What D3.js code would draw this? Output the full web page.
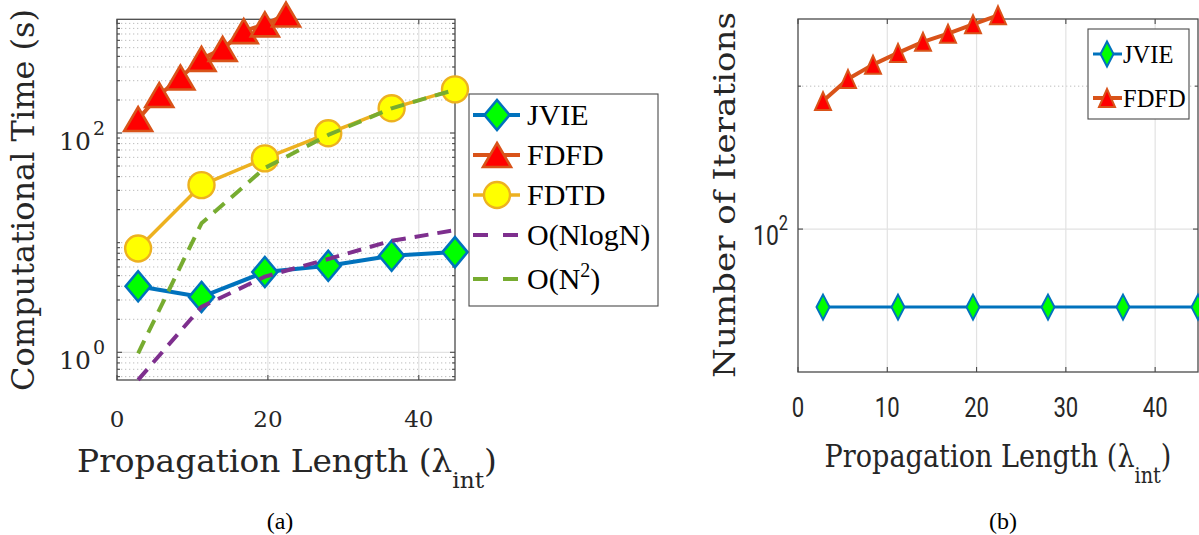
<!DOCTYPE html>
<html><head><meta charset="utf-8">
<script src="https://cdn.jsdelivr.net/npm/d3@7"></script>
<style>body{margin:0;background:#fff}svg{display:block}</style>
</head><body>
<svg id="c" width="1199" height="535"></svg>
<script>
// ---------------- data ----------------
const lengthsCoarse = [2.8, 11.2, 19.6, 28, 36.4, 44.8];
const lengthsFine   = [2.8, 5.6, 8.4, 11.2, 14, 16.8, 19.6, 22.4];
const timeJVIE  = [4.0, 3.2, 5.4, 6.15, 7.6, 8.2];
const timeFDFD  = [134, 222, 321, 474, 585, 849, 979, 1203];
const timeFDTD  = [8.85, 33.5, 58.7, 99.4, 168, 250];
const timeNlogN = [0.56, 2.6, 4.9, 7.1, 10.4, 13.0];
const timeN2    = [0.98, 15, 48, 96, 168, 248];
const iterJVIE  = [68.5, 68.5, 68.5, 68.5, 68.5, 68.5];
const iterFDFD  = [186, 207, 222, 235, 248, 258, 270, 282];
const xTicksA = [0, 20, 40];
const yTicksA = [1, 100];
const xTicksB = [0, 10, 20, 30, 40];
const yTicksB = [100];
const yMinorB = [200];
const legendA = ["JVIE", "FDFD", "FDTD", "O(NlogN)", "O(N2)"];
const legendB = ["JVIE", "FDFD"];
const xTitle = "Propagation Length (λ";
const xTitleSub = "int";
const yTitleA = "Computational Time (s)";
const yTitleB = "Number of Iterations";
const captions = ["(a)", "(b)"];

// ---------------- style ----------------
const svg = d3.select("#c");
const SERIF = "'DejaVu Serif', serif";
const TIMES = "'Liberation Serif', 'Times New Roman', serif";
const SANS = "Roboto, 'Liberation Sans', sans-serif";
const INK = "#262626";
const COL = {blue: "#0072BD", orange: "#D95319", yellow: "#EDB120", purple: "#7E2F8E", green: "#77AC30"};

const shape = {
  diamond: (w, h) => `M0,${-h/2}L${w/2},0L0,${h/2}L${-w/2},0Z`,
  triangle: (w, h) => `M0,${-h/2}L${w/2},${h/2}L${-w/2},${h/2}Z`,
  circle: (w, h) => `M${-w/2},0A${w/2},${h/2} 0 1,0 ${w/2},0A${w/2},${h/2} 0 1,0 ${-w/2},0Z`
};

function marker(g, kind, cx, cy, m) {
  g.append("path").attr("d", shape[kind](m.w, m.h))
    .attr("transform", `translate(${cx},${cy})`)
    .attr("fill", m.fill).attr("stroke", m.stroke).attr("stroke-width", m.sw)
    .attr("stroke-linejoin", "miter");
}

function fitLabel(parent, o, build) {
  const g = parent.append("g").attr("transform", `translate(${o.x},${o.y}) rotate(${o.rot || 0})`);
  const t = g.append("text").attr("text-anchor", o.anchor || "middle")
    .attr("font-family", o.family).attr("font-size", o.size).attr("fill", INK);
  build(t);
  if (o.width) {
    const w = t.node().getBBox().width;
    t.attr("transform", `scale(${o.width / w},1)`);
  }
  return t;
}

function drawFrame(g, box, x, y, o) {
  // minor dotted grid
  g.selectAll(null).data(o.yMinor).join("line")
    .attr("x1", box.l).attr("x2", box.r).attr("y1", d => y(d)).attr("y2", d => y(d))
    .attr("stroke", "#bcbcbc").attr("stroke-width", 1).attr("stroke-dasharray", "1.3,2.7");
  // major grid
  g.selectAll(null).data(o.yTicks).join("line")
    .attr("x1", box.l).attr("x2", box.r).attr("y1", d => y(d)).attr("y2", d => y(d))
    .attr("stroke", "#e2e2e2").attr("stroke-width", 1.2);
  g.selectAll(null).data(o.xTicks.filter(d => d > x.domain()[0])).join("line")
    .attr("x1", d => x(d)).attr("x2", d => x(d)).attr("y1", box.t).attr("y2", box.b)
    .attr("stroke", "#e2e2e2").attr("stroke-width", 1.2);
  // box
  g.append("rect").attr("x", box.l).attr("y", box.t).attr("width", box.r - box.l).attr("height", box.b - box.t)
    .attr("fill", "none").attr("stroke", "#4a4a4a").attr("stroke-width", 1.3);
  // ticks
  const tk = g.append("g").attr("stroke", "#4a4a4a").attr("stroke-width", 1.1);
  o.xTicks.forEach(d => {
    tk.append("line").attr("x1", x(d)).attr("x2", x(d)).attr("y1", box.b).attr("y2", box.b - 5);
    tk.append("line").attr("x1", x(d)).attr("x2", x(d)).attr("y1", box.t).attr("y2", box.t + 5);
  });
  o.yTicks.forEach(d => {
    tk.append("line").attr("x1", box.l).attr("x2", box.l + 5).attr("y1", y(d)).attr("y2", y(d));
    tk.append("line").attr("x1", box.r).attr("x2", box.r - 5).attr("y1", y(d)).attr("y2", y(d));
  });
  o.yMinor.forEach(d => {
    tk.append("line").attr("x1", box.l).attr("x2", box.l + 3).attr("y1", y(d)).attr("y2", y(d));
    tk.append("line").attr("x1", box.r).attr("x2", box.r - 3).attr("y1", y(d)).attr("y2", y(d));
  });
}

function series(g, x, y, xs, ys, s) {
  const pts = xs.map((v, i) => [v, ys[i]]);
  const line = d3.line().x(d => x(d[0])).y(d => y(d[1]));
  g.append("path").attr("d", line(pts)).attr("fill", "none")
    .attr("stroke", s.color).attr("stroke-width", s.lw)
    .attr("stroke-dasharray", s.dash || null).attr("stroke-linejoin", "round");
  if (s.kind) pts.forEach(p => marker(g, s.kind, x(p[0]), y(p[1]), s.m));
}

// ================= Panel (a) =================
const gA = svg.append("g");
const boxA = {l: 117, r: 455, t: 19.3, b: 380};
const xA = d3.scaleLinear().domain([0, 44.8]).range([boxA.l, boxA.r]);
const yA = d3.scaleLog().domain([0.559, 1089]).range([boxA.b, boxA.t]);
const minorA = yA.ticks().filter(v => !yTicksA.includes(v));
drawFrame(gA, boxA, xA, yA, {xTicks: xTicksA, yTicks: yTicksA, yMinor: minorA});

const mkA = {
  JVIE: {w: 25, h: 30, fill: "#00FF00", stroke: COL.blue, sw: 2.6},
  FDFD: {w: 28, h: 24, fill: "#FF0000", stroke: COL.orange, sw: 2.6},
  FDTD: {w: 26, h: 26, fill: "#FFFF00", stroke: COL.yellow, sw: 2.4}
};
const sA = [
  {name: legendA[0], xs: lengthsCoarse, ys: timeJVIE, color: COL.blue, lw: 4, kind: "diamond", m: mkA.JVIE},
  {name: legendA[1], xs: lengthsFine, ys: timeFDFD, color: COL.orange, lw: 4, kind: "triangle", m: mkA.FDFD},
  {name: legendA[2], xs: lengthsCoarse, ys: timeFDTD, color: COL.yellow, lw: 3.5, kind: "circle", m: mkA.FDTD},
  {name: legendA[3], xs: lengthsCoarse, ys: timeNlogN, color: COL.purple, lw: 4, dash: "14,9"},
  {name: legendA[4], xs: lengthsCoarse, ys: timeN2, color: COL.green, lw: 4, dash: "14,9"}
];
sA.forEach(s => series(gA, xA, yA, s.xs, s.ys, s));

// tick labels (a)
gA.selectAll(null).data(xTicksA).join("text")
  .attr("x", d => xA(d)).attr("y", 427).attr("text-anchor", "middle")
  .attr("font-family", SERIF).attr("font-size", 23).attr("fill", INK).text(d => d);
yTicksA.forEach(v => {
  const t = gA.append("text").attr("x", 105).attr("y", yA(v) + 17).attr("text-anchor", "end")
    .attr("font-family", SERIF).attr("font-size", 25).attr("fill", INK);
  t.append("tspan").text("10");
  t.append("tspan").attr("dx", 2).attr("dy", -15).attr("font-size", 19).text(Math.round(Math.log10(v)));
});

// titles (a)
fitLabel(gA, {x: 287, y: 472, family: SERIF, size: 31, width: 420}, t => {
  t.append("tspan").text(xTitle);
  t.append("tspan").attr("dy", 16).attr("font-size", 22).text(xTitleSub);
  t.append("tspan").attr("dy", -16).text(")");
});
fitLabel(gA, {x: 34, y: 200, rot: -90, family: SERIF, size: 31, width: 382}, t => t.text(yTitleA));

// legend (a)
const legA = gA.append("g");
legA.append("rect").attr("x", 469).attr("y", 94).attr("width", 189).attr("height", 212)
  .attr("fill", "#fff").attr("stroke", "#4a4a4a").attr("stroke-width", 1.1);
const legAy = [115, 155, 195, 235, 279];
sA.forEach((s, i) => {
  const cy = legAy[i];
  legA.append("line").attr("x1", 473).attr("x2", 520).attr("y1", cy).attr("y2", cy)
    .attr("stroke", s.color).attr("stroke-width", s.lw).attr("stroke-dasharray", s.dash ? "15,15" : null);
  if (s.kind) marker(legA, s.kind, 497, cy, s.m);
  const t = legA.append("text").attr("x", 527).attr("y", cy + 10)
    .attr("font-family", TIMES).attr("font-size", 30).attr("fill", "#000");
  if (s.name === "O(N2)") {
    t.append("tspan").text("O(N");
    t.append("tspan").attr("dy", -12).attr("font-size", 20).text("2");
    t.append("tspan").attr("dy", 12).text(")");
  } else t.text(s.name);
});

// ================= Panel (b) =================
const gB = svg.append("g");
const boxB = {l: 798, r: 1198, t: 19, b: 372};
const xB = d3.scaleLinear().domain([0, 44.8]).range([boxB.l, boxB.r]);
const yB = d3.scaleLog().domain([50, 277]).range([boxB.b, boxB.t]);
drawFrame(gB, boxB, xB, yB, {xTicks: xTicksB, yTicks: yTicksB, yMinor: yMinorB});

const sB = [
  {name: legendB[0], xs: lengthsCoarse, ys: iterJVIE, color: COL.blue, lw: 3, kind: "diamond",
   m: {w: 13, h: 25, fill: "#00FF00", stroke: COL.blue, sw: 2}},
  {name: legendB[1], xs: lengthsFine, ys: iterFDFD, color: COL.orange, lw: 4, kind: "triangle",
   m: {w: 16, h: 18, fill: "#FF0000", stroke: COL.orange, sw: 2}}
];
sB.forEach(s => series(gB, xB, yB, s.xs, s.ys, s));

// tick labels (b) - condensed sans
xTicksB.forEach(v => {
  gB.append("g").attr("transform", `translate(${xB(v)},417) scale(0.82,1)`)
    .append("text").attr("text-anchor", "middle").attr("font-family", SANS).attr("font-size", 27)
    .attr("fill", INK).text(v);
});
yTicksB.forEach(v => {
  const t = gB.append("g").attr("transform", `translate(788,${yB(v) + 16}) scale(0.82,1)`)
    .append("text").attr("text-anchor", "end").attr("font-family", SANS).attr("font-size", 28).attr("fill", INK);
  t.append("tspan").text("10");
  t.append("tspan").attr("dy", -15).attr("font-size", 20).text(Math.round(Math.log10(v)));
});

fitLabel(gB, {x: 998, y: 467, family: SERIF, size: 31, width: 347}, t => {
  t.append("tspan").text(xTitle);
  t.append("tspan").attr("dy", 16).attr("font-size", 22).text(xTitleSub);
  t.append("tspan").attr("dy", -16).text(")");
});
fitLabel(gB, {x: 735, y: 195, rot: -90, family: SERIF, size: 30, width: 366}, t => t.text(yTitleB));

// legend (b)
const legB = gB.append("g");
legB.append("rect").attr("x", 1088).attr("y", 29).attr("width", 101).attr("height", 90)
  .attr("fill", "#fff").attr("stroke", "#4a4a4a").attr("stroke-width", 1.1);
const legBy = [54, 98];
sB.forEach((s, i) => {
  const cy = legBy[i];
  legB.append("line").attr("x1", 1093).attr("x2", 1122).attr("y1", cy).attr("y2", cy)
    .attr("stroke", s.color).attr("stroke-width", s.lw);
  marker(legB, s.kind, 1107, cy, s.m);
  legB.append("text").attr("x", 1123).attr("y", cy + 9)
    .attr("font-family", TIMES).attr("font-size", 24.5).attr("fill", "#000").text(s.name);
});

// captions
svg.selectAll(null).data(captions).join("text")
  .attr("x", (d, i) => [280, 1003][i]).attr("y", 529).attr("text-anchor", "middle")
  .attr("font-family", TIMES).attr("font-size", 24).attr("fill", "#000").text(d => d);
</script>
</body></html>
